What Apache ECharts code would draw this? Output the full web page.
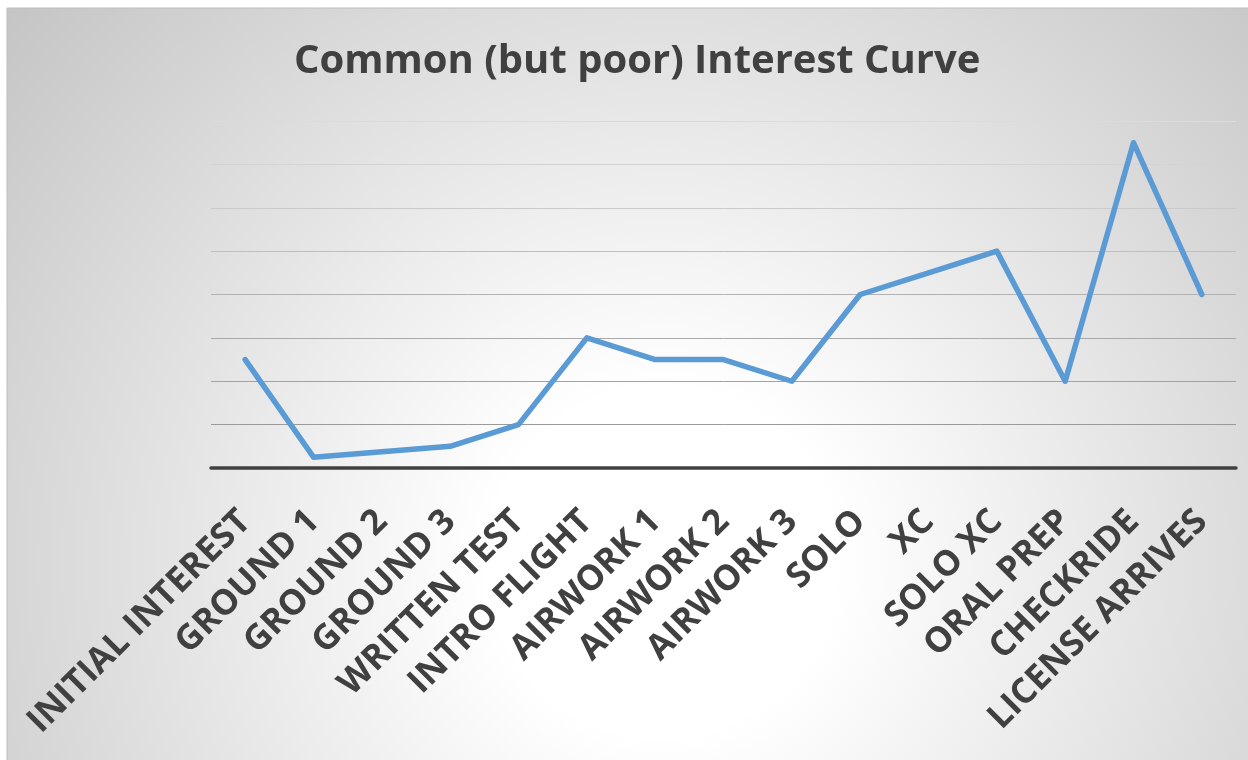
<!DOCTYPE html>
<html>
<head>
<meta charset="utf-8">
<title>Common (but poor) Interest Curve</title>
<script src="https://cdn.jsdelivr.net/npm/echarts@6/dist/echarts.min.js"></script>
<style>
  html, body { margin: 0; padding: 0; background: #ffffff; }
  #chart { width: 1248px; height: 760px; }
</style>
</head>
<body>
<div id="chart"></div>
<script>
// Training stages along the x axis
const categories = [
  'INITIAL INTEREST', 'GROUND 1', 'GROUND 2', 'GROUND 3', 'WRITTEN TEST',
  'INTRO FLIGHT', 'AIRWORK 1', 'AIRWORK 2', 'AIRWORK 3', 'SOLO',
  'XC', 'SOLO XC', 'ORAL PREP', 'CHECKRIDE', 'LICENSE ARRIVES'
];

// Interest level at each stage
const interest = [2.5, 0.25, 0.375, 0.5, 1, 3, 2.5, 2.5, 2, 4, 4.5, 5, 2, 7.5, 4];

// Value axis range (no labels drawn)
const yMin = 0;
const yMax = 8;
const yStep = 1;

// Gridline shades, bottom to top
const gridShades = ['#9c9c9c', '#9a9a9a', '#a2a2a2', '#a9a9a9', '#b2b2b2', '#bebebe', '#cacaca', '#d3d3d3', '#dbdbdb'];

const chart = echarts.init(document.getElementById('chart'), null, { renderer: 'canvas' });

const option = {
  backgroundColor: 'transparent',
  animation: false,
  graphic: [{
    type: 'rect',
    z: -10,
    silent: true,
    shape: { x: 7, y: 8, width: 1260, height: 770 },
    style: {
      fill: {
        type: 'radial',
        x: 0.52, y: 0.72, r: 1.12,
        colorStops: [
          { offset: 0, color: '#ffffff' },
          { offset: 0.2, color: '#ffffff' },
          { offset: 1, color: '#c4c4c4' }
        ]
      },
      stroke: '#bdbdbd',
      lineWidth: 1
    }
  }],
  title: {
    text: 'Common (but poor) Interest Curve',
    left: 289,
    top: 37,
    textStyle: {
      fontFamily: 'Open Sans',
      fontWeight: 'bold',
      fontSize: 40,
      color: '#404040'
    }
  },
  grid: { left: 211, right: 12, top: 121, bottom: 292 },
  xAxis: {
    type: 'category',
    data: categories,
    boundaryGap: true,
    axisLine: { show: true, lineStyle: { color: '#404040', width: 3.5 } },
    axisTick: { show: false },
    splitLine: { show: false },
    axisLabel: {
      show: true,
      interval: 0,
      rotate: 45,
      margin: 48,
      fontFamily: 'Open Sans',
      fontWeight: 'bold',
      fontSize: 35,
      color: '#404040'
    }
  },
  yAxis: {
    type: 'value',
    min: yMin,
    max: yMax,
    interval: yStep,
    axisLine: { show: false },
    axisTick: { show: false },
    axisLabel: { show: false },
    splitLine: { show: true, lineStyle: { color: gridShades, width: 1 } }
  },
  series: [{
    type: 'line',
    data: interest,
    showSymbol: false,
    symbol: 'none',
    z: 5,
    lineStyle: { color: '#5b9bd5', width: 5.5, cap: 'round', join: 'round' }
  }]
};

chart.setOption(option);
</script>
</body>
</html>
